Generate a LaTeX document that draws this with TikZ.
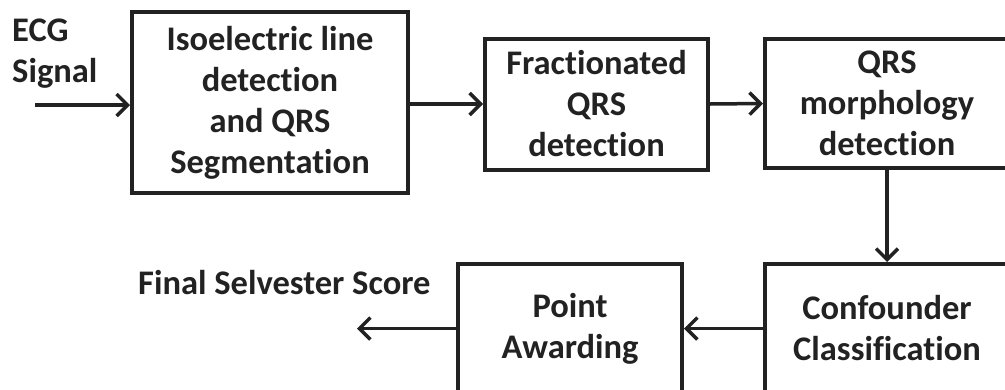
\documentclass[tikz,border=0pt]{standalone}
\usepackage{fontspec}
\setmainfont[Ligatures=NoCommon]{Carlito}
\usetikzlibrary{arrows.meta}
\definecolor{ink}{RGB}{34,34,34}
\tikzset{
  blk/.style={draw=ink, line width=4pt, text=ink, align=center, inner sep=0pt,
    font=\fontsize{34.5}{41}\selectfont\bfseries},
  lbl/.style={text=ink, inner sep=0pt, align=left,
    font=\fontsize{34.5}{41}\selectfont\bfseries},
  arr/.style={draw=ink, line width=3.5pt,
    -{Straight Barb[length=11pt, width=22pt, line width=3.5pt]}}
}
\begin{document}
\begin{tikzpicture}[x=1pt, y=-1pt]
\useasboundingbox (0,0) rectangle (1005,389);
\begin{scope}
\clip (0,0) rectangle (1005,389);
% processing blocks
\node[blk, minimum width=276pt, minimum height=181pt] (b1) at (270,102.5)
  {Isoelectric line\\detection\\and QRS\\Segmentation};
\node[blk, minimum width=223pt, minimum height=131pt] (b2) at (596.5,104)
  {Fractionated\\QRS\\detection};
\node[blk, minimum width=244pt, minimum height=129pt] (b3) at (887,103.5)
  {QRS\\morphology\\detection};
\node[blk, minimum width=244pt, minimum height=129pt] (b4) at (887,328.5)
  {Confounder\\Classification};
\node[blk, minimum width=224pt, minimum height=129pt] (b5) at (570,328.5)
  {Point\\Awarding};
% labels
\node[lbl, anchor=north west] (sig) at (12,19) {ECG\\Signal};
\node[lbl, anchor=west] (res) at (138,283) {Final Selvester Score};
% free ends
\coordinate (in) at (35,105);
\coordinate (out) at (357,328.5);
% connectors
\draw[arr] (in) -- (in -| b1.west);
\draw[arr] (b2.west -| b1.east) -- (b2.west);
\draw[arr] (b2.east) -- (b3.west);
\draw[arr] (b3.south) -- (b4.north);
\draw[arr] (b4.west) -- (b5.east);
\draw[arr] (b5.west) -- (out);
\end{scope}
\end{tikzpicture}
\end{document}
